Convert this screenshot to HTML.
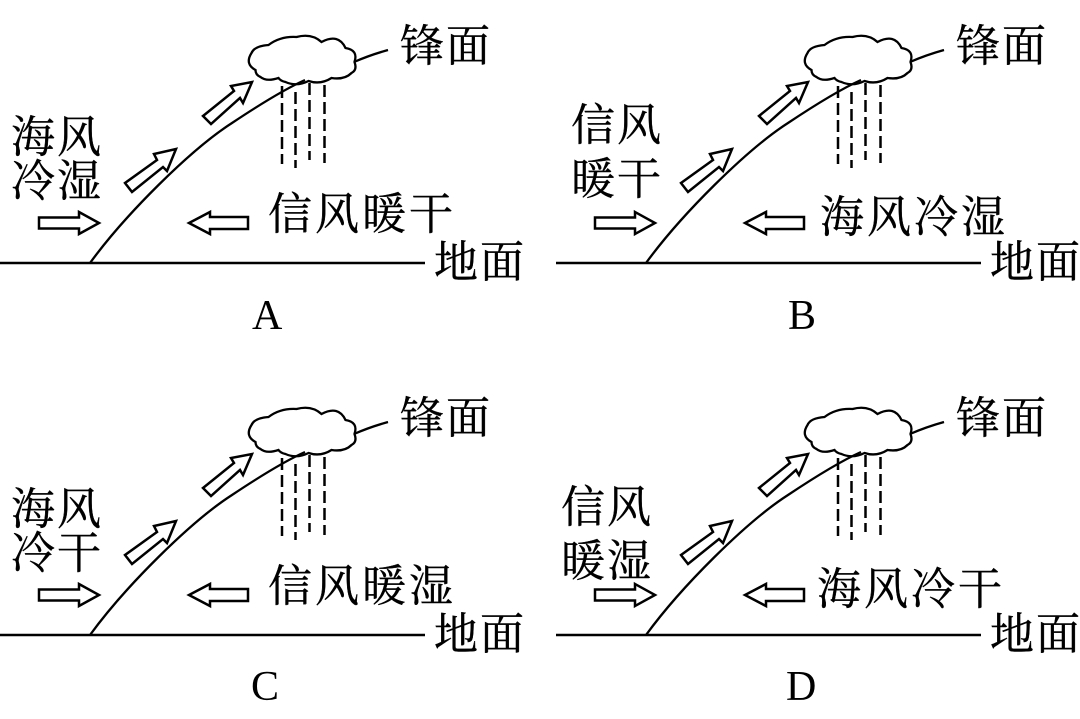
<!DOCTYPE html>
<html lang="zh"><head><meta charset="utf-8"><title>锋面</title>
<style>
html,body{margin:0;padding:0;background:#fff;width:1080px;height:719px;overflow:hidden}
svg{display:block}
.c{font-family:"Liberation Serif","Noto Serif CJK SC",serif;font-size:44px;letter-spacing:2px;fill:#000;stroke:#000;stroke-width:.4}
.w{letter-spacing:3px}
.l{font-family:"Liberation Serif",serif;font-size:42px;fill:#000}
.s{fill:none;stroke:#000;stroke-width:2.300}
.a{fill:#fff;stroke:#000;stroke-width:2.500}
</style></head><body>
<svg width="1080" height="719" viewBox="0 0 1080 719" xmlns="http://www.w3.org/2000/svg">
<defs>
<g id="base">
<path class="s" style="stroke-width:2.600" d="M0 263H425"/>
<path class="s" d="M90 263C125 215 190 150 232 123C262 103 285 89 305 80"/>
<path class="s" transform="translate(-1.500 0)" d="M257 70Q246 64 253 53Q256 46 270 45Q282 36 298 37Q313 33 323 42Q340 33 347 48Q360 50 356 62Q359 70 353 73Q346 80 333 78Q322 85 310 81Q298 87 287 82Q282 81 280 78Q268 82 262 77Q257 75 257 70Z"/>
<path class="s" d="M354 62Q370 55 388 50"/>
<g class="s" style="stroke-width:2.500" stroke-dasharray="12 5">
<path d="M282 86V164"/><path d="M295.500 92V168"/><path d="M309.500 83V160"/><path d="M324.500 85V163"/>
</g>
<path class="a" d="M125 183L132 192L163 167L167 171L176 149L154 154L157 160Z"/>
<path class="a" d="M203 116L211 124L240 98L243 103L252 82L231 86L234 91Z"/>
<path class="a" d="M39 217.500H79V212L99 223L79 234V228.500H39Z"/>
<path class="a" d="M248 217H210V212L189 223L210 234V229H248Z"/>
<text class="c" x="400" y="61">锋面</text>
<text class="c" x="434" y="277">地面</text>
</g>
</defs>

<use href="#base"/>
<use href="#base" x="556"/>
<use href="#base" y="372"/>
<use href="#base" x="556" y="372"/>

<text class="c" x="11" y="152">海风</text>
<text class="c" x="11" y="196">冷湿</text>
<text class="c w" x="268" y="229">信风暖干</text>
<text class="l" x="252" y="329">A</text>

<text class="c" x="571" y="140">信风</text>
<text class="c" x="571" y="194">暖干</text>
<text class="c w" x="820" y="232">海风冷湿</text>
<text class="l" x="788" y="329">B</text>

<text class="c" x="11" y="524">海风</text>
<text class="c" x="11" y="568">冷干</text>
<text class="c w" x="268" y="601">信风暖湿</text>
<text class="l" x="251" y="700">C</text>

<text class="c" x="561" y="522">信风</text>
<text class="c" x="561" y="576">暖湿</text>
<text class="c w" x="817" y="604">海风冷干</text>
<text class="l" x="786" y="700">D</text>
</svg>
</body></html>
